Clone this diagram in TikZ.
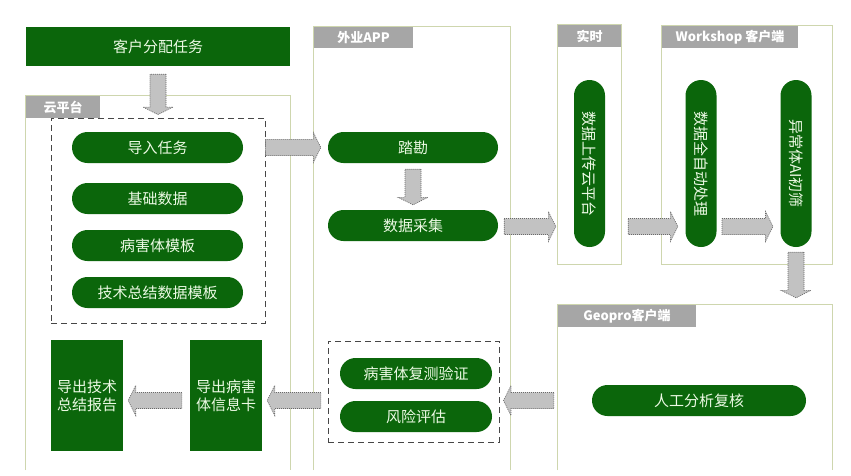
\documentclass[tikz,border=0pt]{standalone}
\usepackage{fontspec}
\setmainfont{Noto Sans CJK SC}
\usetikzlibrary{calc}
\definecolor{dgreen}{RGB}{11,102,11}
\definecolor{ltext}{RGB}{236,250,228}
\definecolor{framec}{RGB}{206,214,174}
\definecolor{tabgray}{RGB}{166,166,166}
\definecolor{arrgray}{RGB}{194,194,194}
\definecolor{arrline}{RGB}{105,105,105}
\definecolor{dashc}{RGB}{70,70,70}
\tikzset{
  pill/.style={fill=dgreen, text=ltext, rounded corners=15.5pt, minimum height=31pt, inner sep=0pt, font=\fontsize{15}{18}\selectfont},
  vpill/.style={pill, rotate=-90, minimum width=167pt, minimum height=31pt, rounded corners=15.5pt},
  darkbox/.style={fill=dgreen, text=ltext, inner sep=0pt, align=center, font=\fontsize{15}{18}\selectfont},
  area/.style={inner sep=0pt, draw=none},
  frameline/.style={draw=framec, line width=1.1pt},
  tab/.style={fill=tabgray, text=white, inner sep=0pt, anchor=north west, font=\fontsize{13}{15}\selectfont\bfseries},
  dashbox/.style={draw=dashc, dash pattern=on 6pt off 4pt, line width=0.9pt, inner sep=0pt},
  blk/.style={fill=arrgray, draw=arrline, dash pattern=on 1pt off 1pt, line width=0.6pt}
}
\newcommand{\HArr}[2]{\draw[blk] let \p1=(#1),\p2=(#2),\n1={((\x2>\x1)*2-1)*7.5} in
  (\x1,{\y1+8pt}) -- ({\x2-\n1*1pt},{\y1+8pt}) -- ({\x2-\n1*1pt},{\y1+15pt}) -- (\x2,\y1)
  -- ({\x2-\n1*1pt},{\y1-15pt}) -- ({\x2-\n1*1pt},{\y1-8pt}) -- (\x1,{\y1-8pt}) -- cycle;}
\newcommand{\VArr}[2]{\draw[blk] let \p1=(#1),\p2=(#2),\n1={((\y2>\y1)*2-1)*7.5} in
  ({\x1+8pt},\y1) -- ({\x1+8pt},{\y2-\n1*1pt}) -- ({\x1+15pt},{\y2-\n1*1pt}) -- (\x1,\y2)
  -- ({\x1-15pt},{\y2-\n1*1pt}) -- ({\x1-8pt},{\y2-\n1*1pt}) -- ({\x1-8pt},\y1) -- cycle;}
\begin{document}
\begin{tikzpicture}[x=1pt,y=-1pt]
\fill[white] (0,0) rectangle (851,475);
\useasboundingbox (0,0) rectangle (851,475);

% containers
\node[area, minimum width=264pt, minimum height=374pt] (cloud) at (158,283) {};
\node[area, minimum width=196pt, minimum height=443pt] (app) at (412,248.5) {};
\node[area, minimum width=63pt, minimum height=239pt] (rt) at (589.5,144.5) {};
\node[area, minimum width=170pt, minimum height=238pt] (ws) at (747,145) {};
\node[area, minimum width=274pt, minimum height=165pt] (geo) at (695,387.5) {};
\draw[frameline] (cloud.south west) -- (cloud.north west) -- (cloud.north east) -- (cloud.south east);
\draw[frameline] (app.south west) -- (app.north west) -- (app.north east) -- (app.south east);
\draw[frameline] (rt.south west) rectangle (rt.north east);
\draw[frameline] (ws.south west) rectangle (ws.north east);
\draw[frameline] (geo.south west) -- (geo.north west) -- (geo.north east) -- (geo.south east);
\node[tab, minimum width=74pt, minimum height=22pt] (cloudtab) at (cloud.north west) {云平台};
\node[tab, minimum width=99pt, minimum height=21pt] (apptab) at (app.north west) {外业APP};
\node[tab, minimum width=63pt, minimum height=22pt] (rttab) at (rt.north west) {实时};
\node[tab, minimum width=136pt, minimum height=22pt] (wstab) at (ws.north west) {Workshop 客户端};
\node[tab, minimum width=138pt, minimum height=22pt] (geotab) at (geo.north west) {Geopro客户端};

% top task
\node[darkbox, minimum width=264pt, minimum height=39pt] (top) at (158,46.5) {客户分配任务};

% cloud platform
\node[dashbox, minimum width=214pt, minimum height=205pt] (dash1) at (158,220.5) {};
\node[pill, minimum width=171pt] (p1) at (157.5,147.5) {导入任务};
\node[pill, minimum width=171pt] (p2) at (157.5,198.5) {基础数据};
\node[pill, minimum width=171pt] (p3) at (157.5,245.5) {病害体模板};
\node[pill, minimum width=171pt] (p4) at (157.5,292.5) {技术总结数据模板};
\node[darkbox, minimum width=72pt, minimum height=111pt] (report) at (87,395.5) {导出技术\\总结报告};
\node[darkbox, minimum width=72pt, minimum height=111pt] (card) at (226,395.5) {导出病害\\体信息卡};

% field app
\node[pill, minimum width=170pt] (tak) at (413,147.5) {踏勘};
\node[pill, minimum width=170pt] (collect) at (413,225.5) {数据采集};
\node[dashbox, minimum width=171pt, minimum height=101pt] (dash2) at (413.5,391.5) {};
\node[pill, minimum width=152pt] (verify) at (416,373.5) {病害体复测验证};
\node[pill, minimum width=152pt] (risk) at (416,416.5) {风险评估};

% realtime & workshop
\node[vpill] (up) at (589.5,163.5) {数据上传云平台};
\node[vpill] (wp1) at (701,163.5) {数据全自动处理};
\node[vpill] (wp2) at (796,163.5) {异常体AI初筛};

% geopro
\node[pill, minimum width=214pt] (ai) at (699,400.5) {人工分析复核};

% arrows
\VArr{$(top.south)+(0,8)$}{$(dash1.north)+(0,-3)$}
\HArr{dash1.east |- p1}{$(app.west |- p1)+(7,0)$}
\VArr{$(tak.south)+(0,6)$}{$(collect.north)+(0,-5)$}
\HArr{$(collect.east)+(6,1)$}{$(rt.west |- collect)+(-2,1)$}
\HArr{$(rt.east |- collect)+(7,1)$}{$(ws.west |- collect)+(16,1)$}
\HArr{$(wp1.center |- collect)+(21,1)$}{$(wp2.center |- collect)+(-23,1)$}
\VArr{$(wp2.center |- ws.south)+(0,-12)$}{$(wp2.center |- geo.north)+(0,-7)$}
\HArr{$(geo.west |- ai)+(-4,0)$}{$(dash2.east |- ai)+(4,0)$}
\HArr{$(app.west |- ai)+(7,0)$}{$(card.east |- ai)+(5,0)$}
\HArr{$(card.west |- ai)+(-8,0)$}{$(report.east |- ai)+(5,0)$}
\end{tikzpicture}
\end{document}
